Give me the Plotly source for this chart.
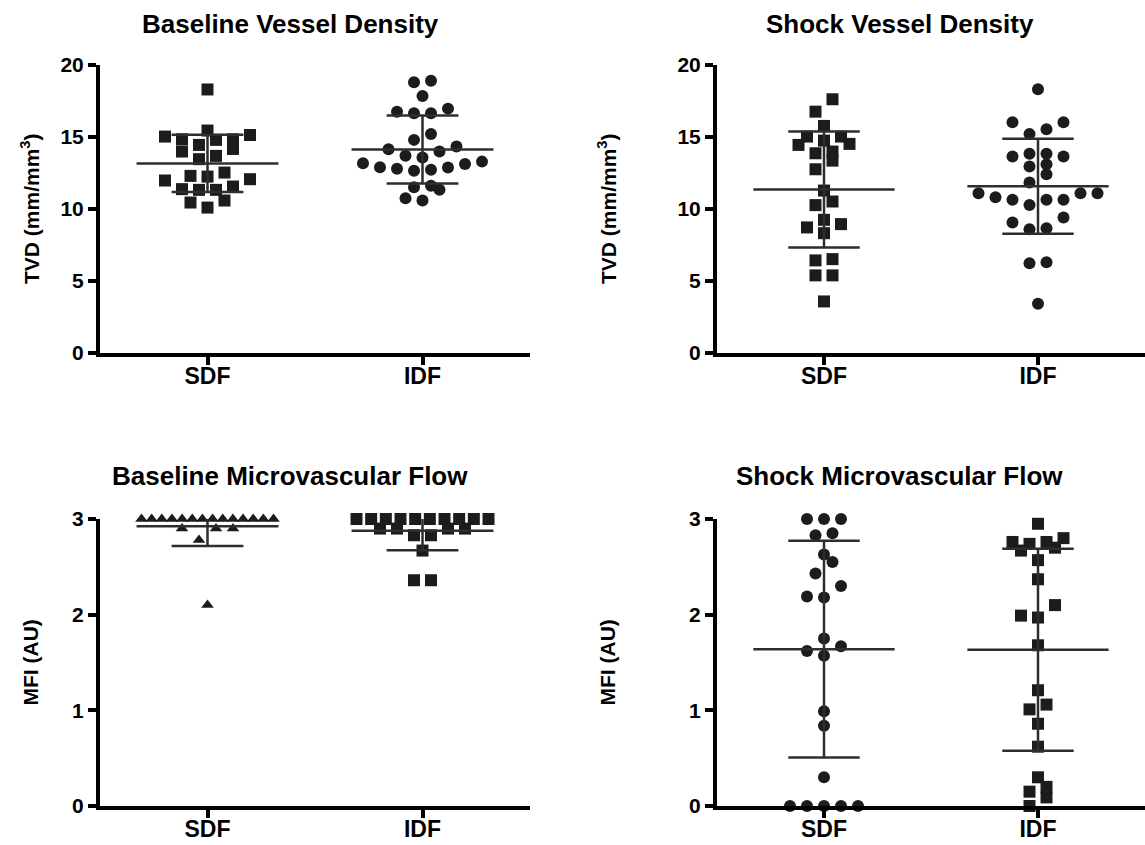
import plotly.graph_objects as go

# ---- data -------------------------------------------------------------
groups = ["SDF", "IDF"]

baseline_tvd_sdf = [18.3, 15.45, 15.03, 14.84, 14.80, 14.84, 15.14, 14.45, 14.17, 13.99,
                    13.46, 13.69, 12.30, 12.07, 12.25, 12.53, 11.98, 11.33, 11.56, 11.38,
                    11.33, 10.59, 10.45, 10.10]
baseline_tvd_idf = [18.80, 18.91, 17.85, 16.76, 16.65, 16.65, 16.97, 15.21, 14.34, 14.80,
                    13.99, 14.15, 13.69, 13.29, 13.13, 12.88, 12.72, 12.65, 12.79, 12.90,
                    13.18, 13.57, 11.61, 11.33, 11.51, 10.59, 10.75]

shock_tvd_sdf = [17.62, 16.76, 15.77, 15.03, 14.75, 14.45, 14.52, 15.03, 13.87, 13.99,
                 13.36, 12.76, 11.28, 10.52, 10.27, 8.95, 8.32, 8.72, 9.25, 6.52,
                 6.43, 5.39, 5.39, 3.58]
shock_tvd_idf = [18.31, 16.02, 16.02, 15.21, 15.54, 13.83, 13.64, 12.95, 13.11, 13.64,
                 13.83, 12.42, 11.84, 11.10, 11.10, 10.64, 10.64, 10.27, 10.64, 10.82,
                 11.10, 9.06, 8.60, 8.67, 9.41, 6.31, 6.24, 3.42]

baseline_mfi_sdf = [3.0, 3.0, 3.0, 3.0, 3.0, 3.0, 3.0, 3.0, 3.0, 3.0, 3.0, 3.0, 3.0, 3.0,
                    2.9, 2.9, 2.9, 2.78, 2.1]
baseline_mfi_idf = [3.0, 3.0, 3.0, 3.0, 3.0, 3.0, 3.0, 3.0, 3.0, 3.0,
                    2.9, 2.9, 2.9, 2.9, 2.83, 2.83, 2.67, 2.36, 2.36]

shock_mfi_sdf = [3.0, 3.0, 3.0, 2.85, 2.83, 2.63, 2.55, 2.43, 2.30, 2.18, 2.19,
                 1.75, 1.62, 1.57, 1.67, 0.99, 0.84, 0.30, 0.0, 0.0, 0.0, 0.0, 0.0]
shock_mfi_idf = [2.95, 2.76, 2.70, 2.76, 2.80, 2.74, 2.67, 2.57, 2.37, 2.10, 1.97, 1.99,
                 1.68, 1.21, 1.06, 1.01, 0.86, 0.62, 0.30, 0.15, 0.20, 0.09, 0.0]

titles = ["Baseline Vessel Density", "Shock Vessel Density",
          "Baseline Microvascular Flow", "Shock Microvascular Flow"]
tvd_ticks = [0, 5, 10, 15, 20]
mfi_ticks = [0, 1, 2, 3]

# ---- page geometry (pixels) ------------------------------------------
W, H = 1145, 845
FONT = "Liberation Sans, Arial, Helvetica, sans-serif"
INK = "#1c1c1c"

# each panel: x pixel span of axes, y pixel span (top, bottom), y max
panels = [
    dict(data=(baseline_tvd_sdf, baseline_tvd_idf), sym=("square", "circle"),
         xpx=(100, 530), ypx=(65, 353), ymax=20, ticks=tvd_ticks,
         ytitle="TVD (mm/mm<sup>3</sup>)", title_xy=(290, 24), ytitle_x=30),
    dict(data=(shock_tvd_sdf, shock_tvd_idf), sym=("square", "circle"),
         xpx=(717, 1145), ypx=(65, 353), ymax=20, ticks=tvd_ticks,
         ytitle="TVD (mm/mm<sup>3</sup>)", title_xy=(900, 24), ytitle_x=607),
    dict(data=(baseline_mfi_sdf, baseline_mfi_idf), sym=("triangle-up", "square"),
         xpx=(100, 530), ypx=(519, 806), ymax=3, ticks=mfi_ticks,
         ytitle="MFI (AU)", title_xy=(290, 476), ytitle_x=30),
    dict(data=(shock_mfi_sdf, shock_mfi_idf), sym=("circle", "square"),
         xpx=(717, 1145), ypx=(519, 806), ymax=3, ticks=mfi_ticks,
         ytitle="MFI (AU)", title_xy=(900, 476), ytitle_x=607),
]


def swarm_offsets(values, px_x, px_y, row_px=12.5, gap_px=17.0, max_span_px=132.0):
    """Column-scatter layout: values within about one symbol height share a row
    and are spread symmetrically about the group centre."""
    order = sorted(range(len(values)), key=lambda i: values[i])
    rows, row, start = [], [], None
    for i in order:
        v = values[i]
        if row and (v - start) * px_y >= row_px:
            rows.append(row)
            row = []
        if not row:
            start = v
        row.append(i)
    if row:
        rows.append(row)
    offsets = [0.0] * len(values)
    for row in rows:
        n = len(row)
        step = gap_px if n < 2 else min(gap_px, max_span_px / (n - 1))
        slots = [(k - (n - 1) / 2) * step for k in range(n)]
        slots.sort(key=lambda s: (abs(s), s))
        for i, s in zip(row, slots):
            offsets[i] = s / px_x
    return offsets


def mean_sd(vals):
    n = len(vals)
    m = sum(vals) / n
    sd = (sum((v - m) ** 2 for v in vals) / (n - 1)) ** 0.5
    return m, sd


fig = go.Figure()
annotations = []
layout_axes = {}

for p_idx, p in enumerate(panels, start=1):
    xa = "x" if p_idx == 1 else f"x{p_idx}"
    ya = "y" if p_idx == 1 else f"y{p_idx}"
    x0, x1 = p["xpx"]
    yt, yb = p["ypx"]
    px_x = (x1 - x0) / 2.0
    px_y = (yb - yt) / p["ymax"]

    for g, vals in enumerate(p["data"]):
        offs = swarm_offsets(vals, px_x, px_y)
        sym = p["sym"][g]
        size = 11 if sym == "triangle-up" else 12
        fig.add_trace(go.Scatter(
            x=[g + o for o in offs], y=vals, xaxis=xa, yaxis=ya,
            mode="markers", cliponaxis=False, showlegend=False, hoverinfo="y",
            marker=dict(symbol=sym, size=size, color=INK, line=dict(width=0)),
        ))
        m, sd = mean_sd(vals)
        hi = min(m + sd, p["ymax"])
        lo = max(m - sd, 0)
        xs = [g - 0.33, g + 0.33, None, g, g, None, g - 0.167, g + 0.167]
        ys = [m, m, None, lo, hi, None, lo, lo]
        if m + sd <= p["ymax"]:
            xs += [None, g - 0.167, g + 0.167]
            ys += [None, m + sd, m + sd]
        fig.add_trace(go.Scatter(
            x=xs, y=ys, xaxis=xa, yaxis=ya, mode="lines", showlegend=False,
            hoverinfo="skip", line=dict(color="#2e2e2e", width=2.5),
        ))

    axis_common = dict(showline=True, linewidth=4, linecolor="black",
                       ticks="outside", ticklen=8, tickwidth=3.5, tickcolor="black",
                       showgrid=False, zeroline=False, automargin=False,
                       tickfont=dict(family=FONT, size=21, color="black", weight="bold"))
    layout_axes["xaxis" if p_idx == 1 else f"xaxis{p_idx}"] = dict(
        axis_common, domain=[x0 / W, x1 / W], range=[-0.5, 1.5],
        tickvals=[0, 1], ticktext=groups, anchor=ya, ticklabelstandoff=-9,
        tickfont=dict(family=FONT, size=23, color="black", weight="bold"))
    layout_axes["yaxis" if p_idx == 1 else f"yaxis{p_idx}"] = dict(
        axis_common, domain=[1 - yb / H, 1 - yt / H], range=[0, p["ymax"]],
        tickvals=p["ticks"], anchor=xa)

    tx, ty = p["title_xy"]
    annotations.append(dict(
        text=titles[p_idx - 1], x=tx / W, y=1 - ty / H, xref="paper", yref="paper",
        xanchor="center", yanchor="middle", showarrow=False,
        font=dict(family=FONT, size=26, color="black", weight="bold")))
    annotations.append(dict(
        text=p["ytitle"], x=p["ytitle_x"] / W, y=1 - (yt + yb) / 2 / H,
        xref="paper", yref="paper", xanchor="center", yanchor="middle",
        textangle=-90, showarrow=False,
        font=dict(family=FONT, size=21, color="black", weight="bold")))

fig.update_layout(
    width=W, height=H, margin=dict(l=0, r=0, t=0, b=0),
    paper_bgcolor="white", plot_bgcolor="white",
    annotations=annotations, **layout_axes,
)

fig.write_html("out.html")
